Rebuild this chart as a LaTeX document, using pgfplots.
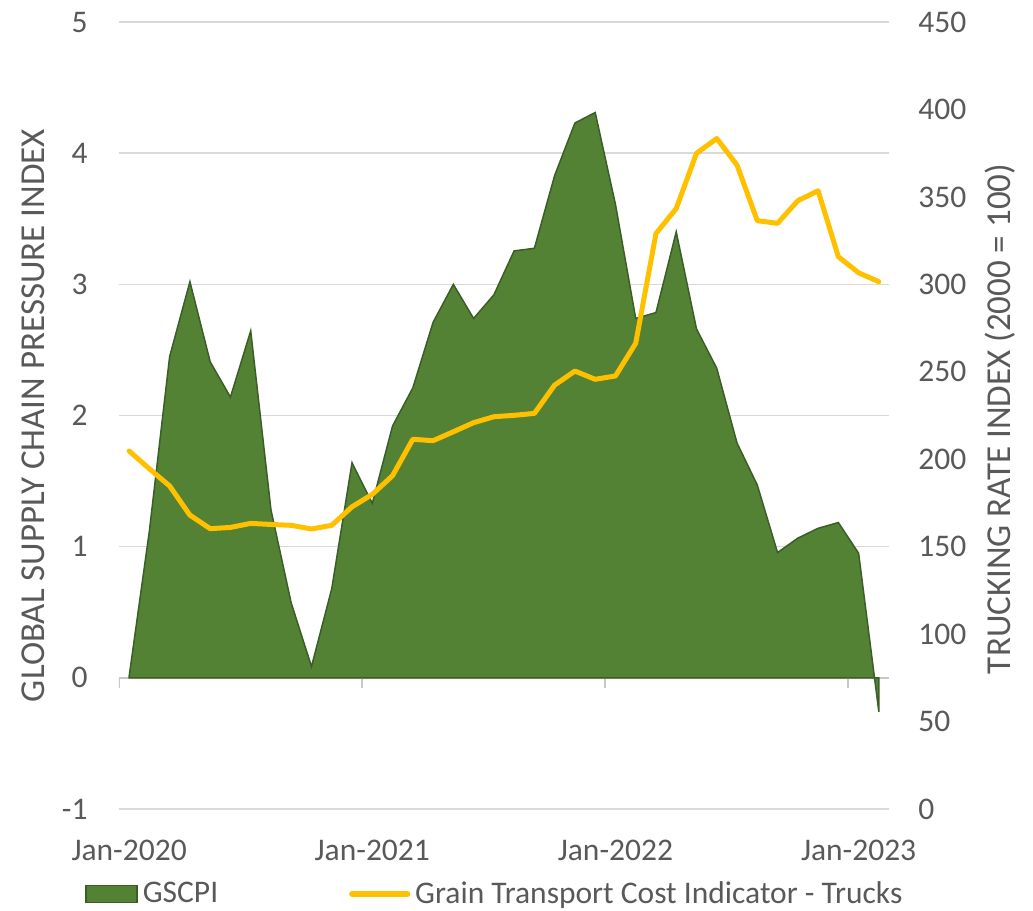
\documentclass[border=0pt]{standalone}
\usepackage{fontspec}
\setmainfont{Carlito}
\usepackage{pgfplots}
\usepackage{pgfplotstable}
\pgfplotsset{compat=1.18}
\definecolor{gscpi}{HTML}{548235}
\definecolor{gscpiedge}{HTML}{3B5E27}
\definecolor{truck}{HTML}{FFC000}
\definecolor{txt}{HTML}{595959}
\definecolor{gridc}{HTML}{D9D9D9}
\definecolor{axl}{HTML}{C8C8C8}
\newcommand{\fs}{\fontsize{15.75bp}{19bp}\selectfont}
\newcommand{\ft}{\fontsize{17.5bp}{21bp}\selectfont}
\pgfplotsset{
  arealeg/.style={legend image code/.code={\draw[##1] (0bp,-4.25bp) rectangle (25.5bp,4.25bp);}},
  lineleg/.style={legend image code/.code={\draw[##1] (0bp,0bp) -- (28bp,0bp);}},
}

\pgfplotstableread{
m v
0 0.01
1 1.12
2 2.45
3 3.02
4 2.41
5 2.14
6 2.645
7 1.28
8 0.57
9 0.086
10 0.68
11 1.64
12 1.33
13 1.92
14 2.21
15 2.71
16 3.00
17 2.74
18 2.92
19 3.255
20 3.275
21 3.83
22 4.23
23 4.31
24 3.61
25 2.74
26 2.785
27 3.40
28 2.66
29 2.36
30 1.79
31 1.47
32 0.955
33 1.065
34 1.14
35 1.184
36 0.95
37 -0.26
}\gscpidata

\pgfplotstableread{
m v
0 204.7
1 194.5
2 184.7
3 168.0
4 160.3
5 161.0
6 163.3
7 162.7
8 162.2
9 160.1
10 162.2
11 172.8
12 179.9
13 190.6
14 211.4
15 210.6
16 215.7
17 220.9
18 224.3
19 225.1
20 226.2
21 242.4
22 250.4
23 245.7
24 247.6
25 266.3
26 329.0
27 343.4
28 374.9
29 383.4
30 368.2
31 336.4
32 334.9
33 347.8
34 353.5
35 315.8
36 306.6
37 301.5
}\truckdata

\begin{document}
\begin{tikzpicture}
\useasboundingbox (-59.5bp,-51bp) rectangle (457bp,404.5bp);
\begin{axis}[
  at={(0,0)}, anchor=south west, scale only axis,
  width=385bp, height=393.5bp,
  xmin=-0.5, xmax=37.5, ymin=-1, ymax=5,
  axis line style={draw=none},
  major tick length=0pt,
  xtick={0,12,24,36},
  xticklabels={Jan-2020,Jan-2021,Jan-2022,Jan-2023},
  ytick={-1,0,1,2,3,4,5},
  yticklabels={-1,0,1,2,3,4,5},
  ymajorgrids, grid style={color=gridc, line width=0.75bp},
  tick label style={font=\fs, text=txt},
  xticklabel style={anchor=base, inner sep=0pt, yshift=-25.5bp},
  yticklabel style={anchor=east, inner sep=0pt, xshift=-15.5bp},
  ylabel={GLOBAL SUPPLY CHAIN PRESSURE INDEX},
  ylabel style={at={(axis description cs:-0.1117,0.5)}, anchor=center, font=\ft, text=txt, inner sep=0pt},
]
\draw[axl, line width=1bp] (axis cs:-0.5,0) -- (axis cs:37.5,0);
\draw[axl, line width=1bp] (axis cs:-0.5,0) -- ++(0pt,-5bp);
\draw[axl, line width=1bp] (axis cs:11.5,0) -- ++(0pt,-5bp);
\draw[axl, line width=1bp] (axis cs:23.5,0) -- ++(0pt,-5bp);
\draw[axl, line width=1bp] (axis cs:35.5,0) -- ++(0pt,-5bp);
\addplot[fill=gscpi, draw=gscpiedge, line width=0.75bp] table[x=m,y=v] {\gscpidata} \closedcycle;
\end{axis}
\begin{axis}[
  at={(0,0)}, anchor=south west, scale only axis,
  width=385bp, height=393.5bp,
  xmin=-0.5, xmax=37.5, ymin=0, ymax=450,
  axis line style={draw=none},
  major tick length=0pt,
  xtick=\empty,
  ytick={0,50,100,150,200,250,300,350,400,450},
  yticklabels={0,50,100,150,200,250,300,350,400,450},
  yticklabel pos=right,
  tick label style={font=\fs, text=txt},
  yticklabel style={anchor=west, inner sep=0pt, xshift=14.5bp},
  ylabel={TRUCKING RATE INDEX (2000 = 100)},
  ylabel style={at={(axis description cs:1.1442,0.4956)}, anchor=center, font=\ft, text=txt, inner sep=0pt},
  legend columns=2,
  legend style={at={(axis description cs:-0.0442,-0.1080)}, anchor=west,
    draw=none, fill=none, inner sep=0pt, font=\fs, text=txt,
    nodes={inner sep=0pt},
    /tikz/every odd column/.append style={column sep=2.5bp},
    /tikz/every even column/.append style={column sep=65.5bp}},
  legend cell align=left,
]
\addlegendimage{fill=gscpi, draw=gscpiedge, line width=0.75bp, arealeg}
\addlegendentry{GSCPI}
\addplot[truck, line width=2.5bp, line join=round, line cap=round, lineleg] table[x=m,y=v] {\truckdata};
\addlegendentry{Grain Transport Cost Indicator - Trucks}
\end{axis}
\end{tikzpicture}
\end{document}
